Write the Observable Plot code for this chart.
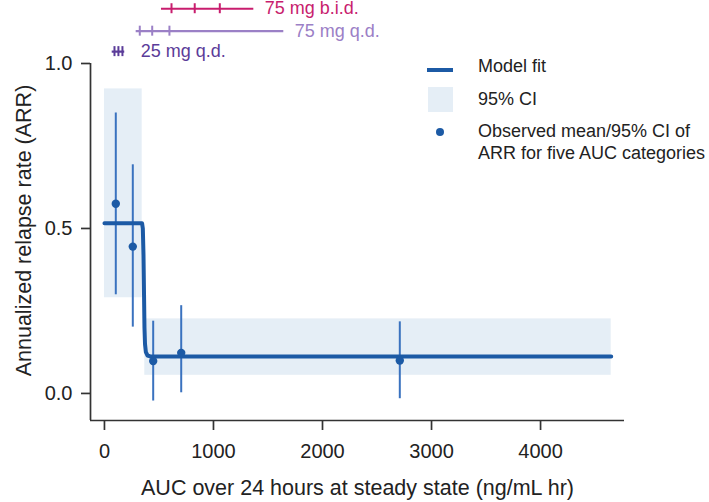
<!DOCTYPE html>
<html><head><meta charset="utf-8">
<script src="https://cdn.jsdelivr.net/npm/d3@7"></script>
<script src="https://cdn.jsdelivr.net/npm/@observablehq/plot@0.6"></script>
<style>
body{margin:0;background:#fff;}
#wrap{position:relative;width:709px;height:502px;}
</style></head><body><div id="wrap"></div>
<script>
// Observed mean / 95% CI of ARR for five AUC categories
const obsAUC = [104, 260, 447, 704, 2709];
const obsARR = [0.575, 0.445, 0.098, 0.123, 0.100];
const obsLo  = [0.299, 0.201, -0.023, 0.002, -0.016];
const obsHi  = [0.850, 0.693, 0.219, 0.266, 0.217];

// Model fit
const fitAUC = [0, 345, 352, 358, 363, 367, 372, 380, 395, 420, 4648];
const fitARR = [0.516, 0.516, 0.500, 0.420, 0.300, 0.200, 0.150, 0.125, 0.115, 0.112, 0.112];

// 95% CI band segments
const ciFrom = [0, 370];
const ciTo   = [346, 4648];
const ciLo   = [0.290, 0.055];
const ciHi   = [0.923, 0.226];

// Dose-group exposure ranges shown above the panel
const doseLabels = ["75 mg b.i.d.", "75 mg q.d.", "25 mg q.d."];
const doseMin = [523, 291, 71];
const doseMax = [1370, 1645, 186];
const doseTicks = [[615, 828, 1058], [324, 438, 596], [92, 128, 165]];

const xTicks = [0, 1000, 2000, 3000, 4000];
const yTicks = [0.0, 0.5, 1.0];
const xDomain = [-128, 4770];
const yDomain = [-0.082, 1.0];

// layout / style
const doseRowY = [1.166, 1.098, 1.036];
const doseColors = ["#c81d6e", "#9b80c6", "#5b3c99"];
const doseLabelDx = [11, 11, 16];
const FONT = "'Liberation Sans', Arial, Helvetica, sans-serif";
const fitColor = "#1c5aa5", errColor = "#3a72bf", bandColor = "#e5eef6", ink = "#222";

const obs = obsAUC.map((x, i) => ({x, y: obsARR[i], lo: obsLo[i], hi: obsHi[i]}));
const fit = fitAUC.map((x, i) => ({x, y: fitARR[i]}));
const ci = ciFrom.map((x1, i) => ({x1, x2: ciTo[i], y1: ciLo[i], y2: ciHi[i]}));

const doseMarks = [];
doseLabels.forEach((lab, i) => {
  const yv = doseRowY[i];
  doseMarks.push(Plot.ruleY([{a: doseMin[i], b: doseMax[i], y: yv}], {x1: "a", x2: "b", y: "y", stroke: doseColors[i], strokeWidth: 2.2}));
  doseMarks.push(Plot.ruleX(doseTicks[i].map(t => ({x: t, y: yv})), {x: "x", y1: "y", y2: "y", insetTop: -5, insetBottom: -5, stroke: doseColors[i], strokeWidth: 2}));
  doseMarks.push(Plot.text([{x: doseMax[i], y: yv, t: lab}], {x: "x", y: "y", text: "t", textAnchor: "start", dx: doseLabelDx[i], fill: doseColors[i], fontSize: 18}));
});

const chart = Plot.plot({
  width: 709, height: 502,
  marginLeft: 90, marginRight: 85, marginTop: 63, marginBottom: 82,
  style: {fontFamily: FONT, fontSize: "20px", color: ink, background: "#fff", overflow: "visible"},
  x: {domain: xDomain},
  y: {domain: yDomain},
  marks: [
    Plot.rect(ci, {x1: "x1", x2: "x2", y1: "y1", y2: "y2", fill: bandColor}),
    Plot.ruleX(obs, {x: "x", y1: "lo", y2: "hi", stroke: errColor, strokeWidth: 2}),
    Plot.line(fit, {x: "x", y: "y", stroke: fitColor, strokeWidth: 4, strokeLinejoin: "round"}),
    Plot.dot(obs, {x: "x", y: "y", r: 4.2, fill: fitColor}),
    ...doseMarks,
    Plot.ruleY([yDomain[0]], {stroke: "#333", strokeWidth: 1.7}),
    Plot.ruleX([xDomain[0]], {y1: yDomain[0], y2: yDomain[1], stroke: "#333", strokeWidth: 1.7}),
    Plot.axisX({ticks: xTicks, tickSize: 10, tickPadding: 13, tickFormat: d => String(d), label: null, fontSize: 20, stroke: "#333", strokeWidth: 1.7}),
    Plot.axisY({ticks: yTicks, tickSize: 9, tickPadding: 9, tickFormat: d3.format(".1f"), label: null, fontSize: 20, stroke: "#333", strokeWidth: 1.7}),
    Plot.text(["AUC over 24 hours at steady state (ng/mL hr)"], {frameAnchor: "bottom", text: d => d, textAnchor: "middle", lineAnchor: "middle", dy: 68, fontSize: 21.5, fill: ink}),
    Plot.text(["Annualized relapse rate (ARR)"], {frameAnchor: "left", text: d => d, rotate: -90, textAnchor: "middle", lineAnchor: "middle", dx: -66, dy: -11.5, fontSize: 21.5, fill: ink})
  ]
});

// Legend
const svg = d3.select(chart);
const lg = svg.append("g").attr("font-family", FONT).attr("font-size", 18).attr("fill", ink).attr("text-anchor", "start");
lg.append("line").attr("x1", 427).attr("x2", 453).attr("y1", 70).attr("y2", 70).attr("stroke", fitColor).attr("stroke-width", 4);
lg.append("rect").attr("x", 428).attr("y", 87).attr("width", 25).attr("height", 25).attr("fill", bandColor);
lg.append("circle").attr("cx", 440).attr("cy", 132).attr("r", 4).attr("fill", fitColor);
const legendText = [["Model fit", 71.5], ["95% CI", 105], ["Observed mean/95% CI of", 137], ["ARR for five AUC categories", 159]];
legendText.forEach(([t, y]) => lg.append("text").attr("x", 478).attr("y", y).attr("text-anchor", "start").text(t));

document.getElementById("wrap").appendChild(chart);
</script></body></html>
